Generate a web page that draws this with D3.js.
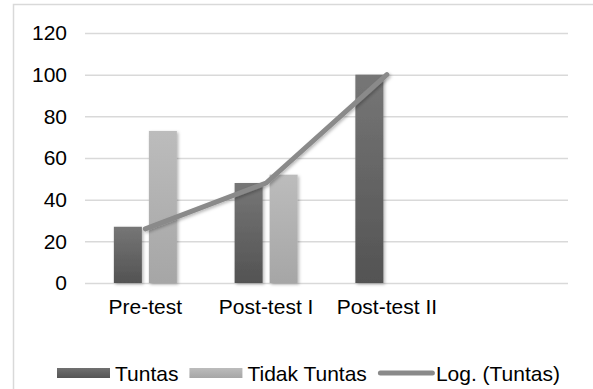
<!DOCTYPE html>
<html>
<head>
<meta charset="utf-8">
<script src="https://cdn.jsdelivr.net/npm/d3@7"></script>
<style>
  html, body { margin: 0; padding: 0; background: #fff; }
  svg { display: block; font-family: "Liberation Sans", Arial, sans-serif; }
</style>
</head>
<body>
<svg id="chart" width="593" height="389"></svg>
<script>
// Category labels (the last slot is an empty category)
const categories = ["Pre-test", "Post-test I", "Post-test II", ""];
const seriesNames = ["Tuntas", "Tidak Tuntas"];
const tuntas = [27, 48, 100, null];
const tidakTuntas = [73, 52, 0, null];
const trendName = "Log. (Tuntas)";
const trendValues = [26, 48, 100];
const yTicks = [0, 20, 40, 60, 80, 100, 120];

const svg = d3.select("#chart");
const W = 593, H = 389;
const plot = { left: 85, right: 568, top: 33, bottom: 283 };
const FS = 21;

const defs = svg.append("defs");
function gradient(id, top, bottom) {
  const g = defs.append("linearGradient").attr("id", id)
    .attr("x1", 0).attr("y1", 0).attr("x2", 0).attr("y2", 1);
  g.append("stop").attr("offset", "0%").attr("stop-color", top);
  g.append("stop").attr("offset", "100%").attr("stop-color", bottom);
}
gradient("gTuntas", "#767676", "#535353");
gradient("gTidak", "#bcbcbc", "#a6a6a6");
gradient("gTuntasL", "#707070", "#555555");

const shadow = defs.append("filter").attr("id", "shadow")
  .attr("x", "-30%").attr("y", "-10%").attr("width", "160%").attr("height", "125%");
shadow.append("feDropShadow").attr("dx", 1.5).attr("dy", 1.5)
  .attr("stdDeviation", 1.6).attr("flood-color", "#000").attr("flood-opacity", 0.28);

// Chart frame (extends past the visible window on the right and bottom)
svg.append("rect")
  .attr("x", 13.5).attr("y", 4.5).attr("width", W + 20).attr("height", H + 20)
  .attr("fill", "#fff").attr("stroke", "#d9d9d9").attr("stroke-width", 1.5);

const y = d3.scaleLinear().domain([0, 120]).range([plot.bottom, plot.top]);
const x0 = d3.scaleBand().domain(categories).range([plot.left, plot.right])
  .paddingInner(0.478).paddingOuter(0.239);
const x1 = d3.scaleBand().domain(seriesNames).range([0, x0.bandwidth()])
  .paddingInner(0.2);

// Gridlines and y labels
const yAxis = d3.axisLeft(y).tickValues(yTicks)
  .tickSize(-(plot.right - plot.left)).tickPadding(18);
const gy = svg.append("g").attr("transform", `translate(${plot.left},0)`).call(yAxis);
gy.select(".domain").remove();
gy.selectAll(".tick line").attr("stroke", "#d9d9d9").attr("stroke-width", 1.5);
gy.selectAll(".tick text").attr("fill", "#000").attr("font-size", FS)
  .attr("font-family", "'Liberation Sans', Arial, sans-serif");

// x labels
const xAxis = d3.axisBottom(x0).tickSize(0).tickPadding(16);
const gx = svg.append("g").attr("transform", `translate(0,${plot.bottom})`).call(xAxis);
gx.select(".domain").remove();
gx.selectAll(".tick text").attr("fill", "#000").attr("font-size", FS)
  .attr("font-family", "'Liberation Sans', Arial, sans-serif");

// Bars
const rows = categories.map((c, i) => ({ cat: c, vals: [
  { key: "Tuntas", v: tuntas[i], fill: "url(#gTuntas)" },
  { key: "Tidak Tuntas", v: tidakTuntas[i], fill: "url(#gTidak)" }
]}));
svg.append("g").selectAll("g").data(rows).join("g")
  .attr("transform", d => `translate(${x0(d.cat)},0)`)
  .selectAll("rect").data(d => d.vals.filter(v => v.v)).join("rect")
  .attr("x", d => x1(d.key))
  .attr("y", d => y(d.v))
  .attr("width", x1.bandwidth())
  .attr("height", d => y(0) - y(d.v))
  .attr("fill", d => d.fill)
  .attr("filter", "url(#shadow)");

// Trend line
const line = d3.line()
  .x((d, i) => x0(categories[i]) + x0.bandwidth() / 2)
  .y(d => y(d));
svg.append("path").datum(trendValues)
  .attr("d", line)
  .attr("fill", "none").attr("stroke", "#8a8a8a").attr("stroke-width", 5)
  .attr("stroke-linecap", "round").attr("stroke-linejoin", "round")
  .attr("filter", "url(#shadow)");

// Legend
const legend = svg.append("g").attr("font-size", FS).attr("fill", "#000");
let lx = 57;
const ly = 373;
const items = [
  { name: seriesNames[0], type: "bar", fill: "url(#gTuntasL)" },
  { name: seriesNames[1], type: "bar", fill: "url(#gTidak)" },
  { name: trendName, type: "line" }
];
items.forEach(it => {
  if (it.type === "bar") {
    legend.append("rect").attr("x", lx).attr("y", ly - 5).attr("width", 53).attr("height", 10)
      .attr("fill", it.fill);
  } else {
    legend.append("line").attr("x1", lx + 2.5).attr("x2", lx + 54.5)
      .attr("y1", ly).attr("y2", ly)
      .attr("stroke", "#8a8a8a").attr("stroke-width", 5).attr("stroke-linecap", "round");
  }
  const t = legend.append("text").attr("x", lx + 58).attr("y", ly + 7.5).text(it.name);
  lx += 58 + t.node().getComputedTextLength() + 11;
});
</script>
</body>
</html>
